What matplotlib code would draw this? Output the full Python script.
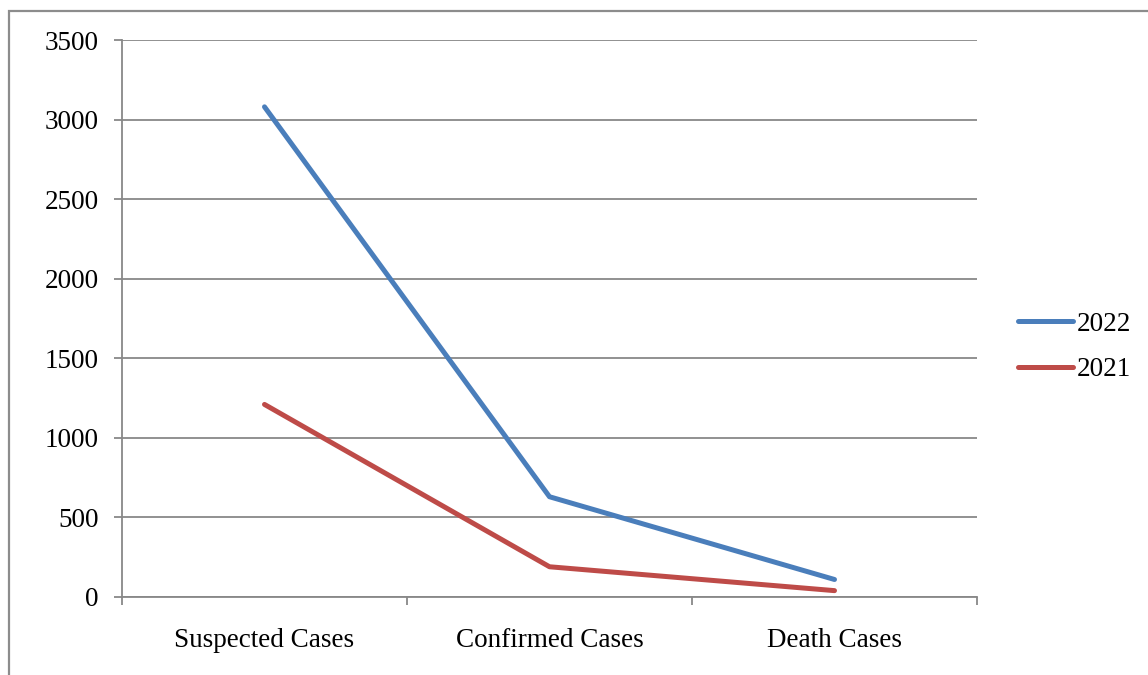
import matplotlib.pyplot as plt
from matplotlib.patches import Rectangle
from matplotlib.lines import Line2D

categories = ["Suspected Cases", "Confirmed Cases", "Death Cases"]
cases_2022 = [3080, 630, 110]
cases_2021 = [1210, 190, 40]
y_ticks = [0, 500, 1000, 1500, 2000, 2500, 3000, 3500]

plt.rcParams["font.family"] = ["Liberation Serif", "DejaVu Serif"]

W, H = 1148, 675
fig = plt.figure(figsize=(W / 100, H / 100), dpi=100)
ax = fig.add_axes([122 / W, 1 - 597 / H, (977 - 122) / W, (597 - 40) / H])

grid_c = "#888888"
fs = 19.5
x = list(range(len(categories)))
ax.plot(x, cases_2022, color="#4A7EBB", lw=3.6, solid_capstyle="round",
        solid_joinstyle="round", label="2022", zorder=3)
ax.plot(x, cases_2021, color="#BE4B48", lw=3.6, solid_capstyle="round",
        solid_joinstyle="round", label="2021", zorder=3)

ax.set_xlim(-0.5, len(categories) - 0.5)
ax.set_ylim(0, 3500)
ax.set_yticks(y_ticks)
ax.set_yticklabels([str(v) for v in y_ticks])
ax.yaxis.grid(True, color=grid_c, lw=1.3)
ax.set_axisbelow(True)

ax.set_xticks([i - 0.5 for i in range(len(categories) + 1)])
ax.set_xticklabels([])
ax.set_xticks(x, minor=True)
ax.set_xticklabels(categories, minor=True)
ax.tick_params(axis="x", which="major", direction="out", length=6, color=grid_c, width=1.3)
ax.tick_params(axis="x", which="minor", length=0, pad=22, labelsize=fs)
ax.tick_params(axis="y", direction="out", length=6, color=grid_c, width=1.3, labelsize=fs, pad=11)

for s in ["top", "right"]:
    ax.spines[s].set_visible(False)
for s in ["left", "bottom"]:
    ax.spines[s].set_color(grid_c)
    ax.spines[s].set_linewidth(1.3)

handles = [Line2D([], [], color="#4A7EBB", lw=3.6, solid_capstyle="round"),
           Line2D([], [], color="#BE4B48", lw=3.6, solid_capstyle="round")]
fig.legend(handles, ["2022", "2021"], loc="center left",
           bbox_to_anchor=(994 / W, 1 - 347 / H), frameon=False,
           fontsize=fs, handlelength=2.0, handletextpad=0.15, labelspacing=0.75)

fig.patches.append(Rectangle((9 / W, -0.1), 2, 1.1 - 11 / H, transform=fig.transFigure,
                             fill=False, edgecolor="#8c8c8c", lw=1.6))

fig.savefig("out.png", dpi=100)
